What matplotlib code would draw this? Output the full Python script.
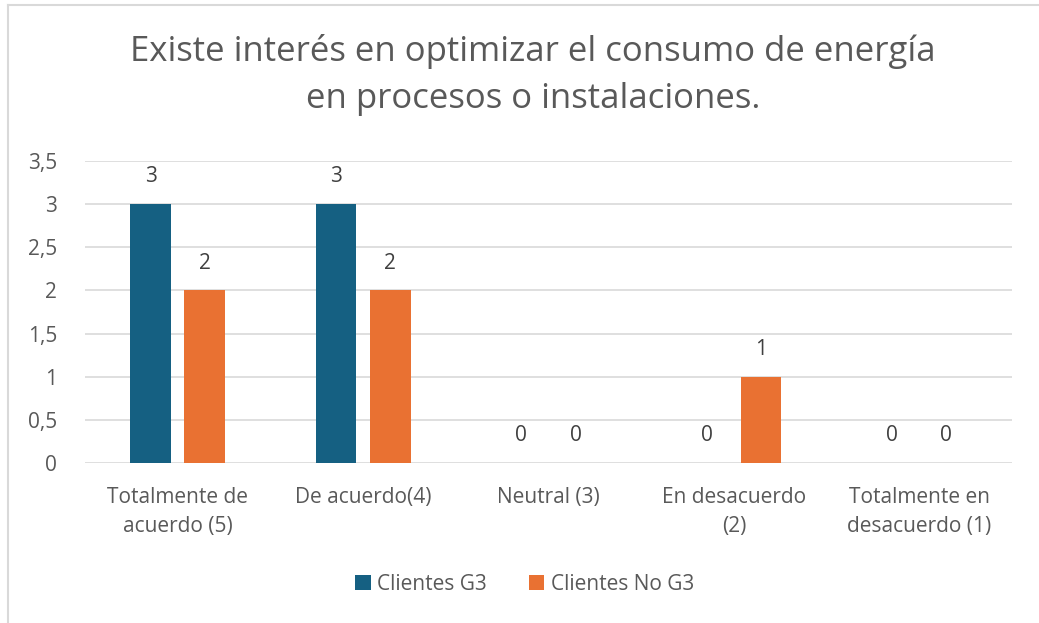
import matplotlib
matplotlib.use("Agg")
import matplotlib.pyplot as plt
from matplotlib.lines import Line2D
import numpy as np

plt.rcParams['font.family'] = ['Open Sans', 'DejaVu Sans']

categorias = ["Totalmente de\nacuerdo (5)", "De acuerdo(4)", "Neutral (3)",
              "En desacuerdo\n(2)", "Totalmente en\ndesacuerdo (1)"]
clientes_g3 = [3, 3, 0, 0, 0]
clientes_no_g3 = [2, 2, 0, 1, 0]
yticks = [0, 0.5, 1, 1.5, 2, 2.5, 3, 3.5]
ytick_labels = ["0", "0,5", "1", "1,5", "2", "2,5", "3", "3,5"]

azul = "#156082"
naranja = "#E97132"
gris = "#595959"

fig = plt.figure(figsize=(10.39, 6.23), dpi=100)
ax = fig.add_axes([0.0818, 0.2568, 0.8922, 0.4848])

x = np.arange(len(categorias))
ancho = 0.22
desp = 0.146
b1 = ax.bar(x - desp, clientes_g3, ancho, color=azul, label="Clientes G3", zorder=3)
b2 = ax.bar(x + desp, clientes_no_g3, ancho, color=naranja, label="Clientes No G3", zorder=3)

for barras in (b1, b2):
    for b in barras:
        ax.annotate(f"{int(b.get_height())}", (b.get_x() + b.get_width() / 2, b.get_height()),
                    xytext=(0, 12), textcoords="offset points", ha="center", va="bottom",
                    fontsize=15, color="#404040")

ax.set_xlim(-0.5, len(categorias) - 0.5)
ax.set_ylim(0, 3.5)
ax.set_yticks(yticks)
ax.set_yticklabels(ytick_labels)
ax.set_xticks(x)
ax.set_xticklabels(categorias, linespacing=1.55)
ax.tick_params(axis="both", length=0, labelsize=15, labelcolor=gris)
ax.tick_params(axis="y", pad=20)
ax.tick_params(axis="x", pad=17)
ax.grid(axis="y", color="#D9D9D9", linewidth=1.2, zorder=0)
for s in ax.spines.values():
    s.set_visible(False)

fig.suptitle("Existe interés en optimizar el consumo de energía\nen procesos o instalaciones.",
             x=0.513, y=0.945, fontsize=25, color=gris, linespacing=1.5)

fig.legend(handles=[b1, b2], loc="center", bbox_to_anchor=(0.505, 0.062), ncol=2,
           frameon=False, fontsize=15, labelcolor=gris, handlelength=0.75, handleheight=0.75,
           handletextpad=0.3, columnspacing=2.0)

# borde del gráfico
fig.add_artist(Line2D([0.0077, 0.0077], [0, 0.992], color="#D9D9D9", linewidth=1.5))
fig.add_artist(Line2D([0.0077, 1.0], [0.992, 0.992], color="#D9D9D9", linewidth=1.5))

fig.savefig("out.png", dpi=100)
